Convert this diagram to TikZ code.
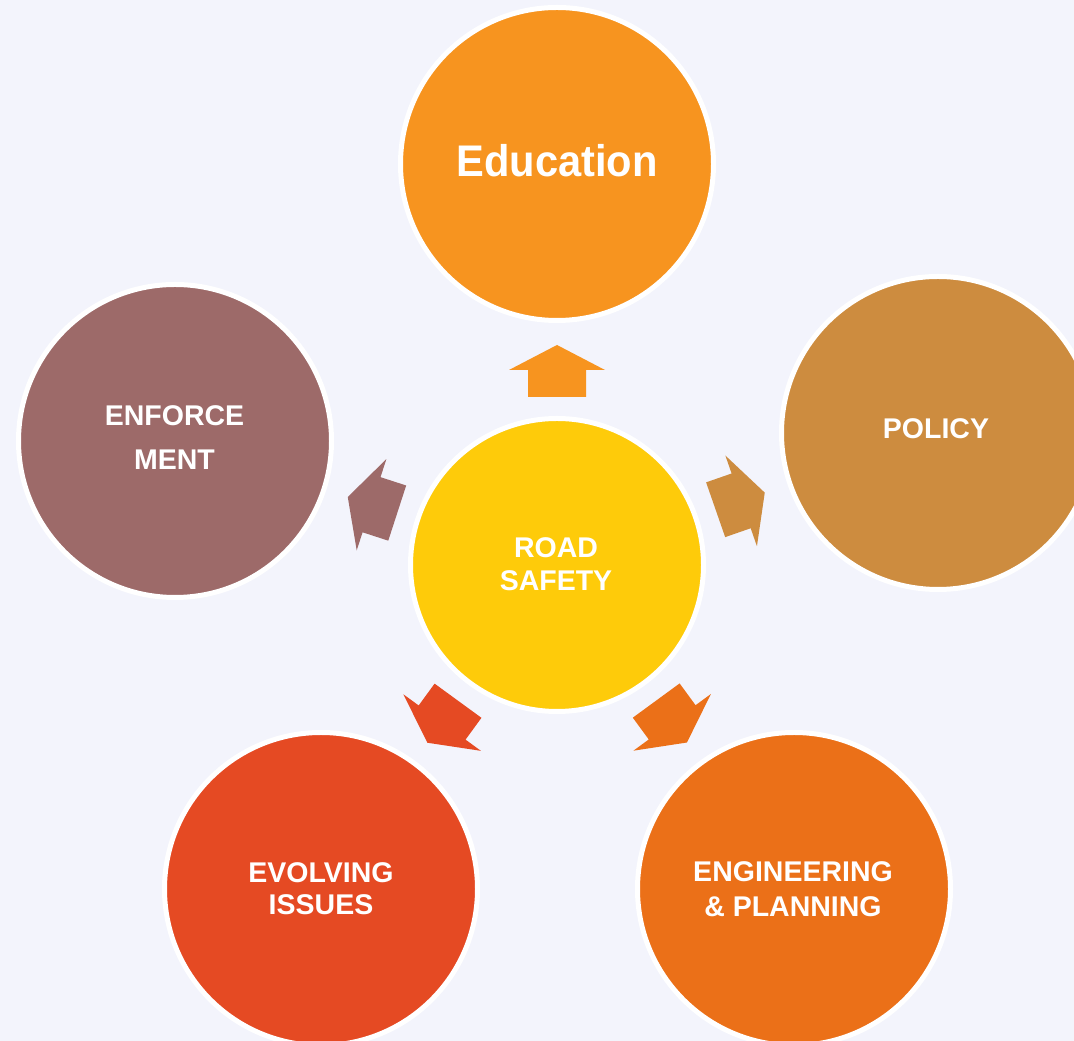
\documentclass[tikz,border=0pt]{standalone}
\usepackage{fontspec}
\setmainfont{Liberation Sans}
\newfontfamily\edufont{Liberation Sans}[FakeStretch=0.94]
\definecolor{bg}{HTML}{F3F4FC}
\definecolor{cHub}{HTML}{FECB0A}
\definecolor{cEdu}{HTML}{F7941F}
\definecolor{cPol}{HTML}{CD8C3F}
\definecolor{cEnf}{HTML}{9D6A69}
\definecolor{cEvo}{HTML}{E54A23}
\definecolor{cEng}{HTML}{EB7018}
\begin{document}
\begin{tikzpicture}[x=1pt,y=1pt,
  disc/.style={circle, draw=white, line width=5pt, minimum size=313pt, inner sep=0pt},
  hubdisc/.style={circle, draw=white, line width=5pt, minimum size=293pt, inner sep=0pt, fill=cHub},
  lbl/.style={text=white, font=\bfseries\fontsize{28.5}{#1}\selectfont, align=center, inner sep=0pt},
  lbl/.default=33,
  blockarrow/.pic={\fill[pic actions] (168,-29) -- (195,-29) -- (195,-48) -- (220,0) -- (195,48) -- (195,29) -- (168,29) -- cycle;}
]
\useasboundingbox (0,0) rectangle (1074,1041);
\clip (0,0) rectangle (1074,1041);
\fill[bg] (0,0) rectangle (1074,1041);

% circles
\node[hubdisc] (hub) at (557,476) {};
\node[disc, fill=cEdu] (edu) at (557,877) {};
\node[disc, fill=cPol] (pol) at (938,608) {};
\node[disc, fill=cEnf] (enf) at (175,600) {};
\node[disc, fill=cEvo] (evo) at (321,152) {};
\node[disc, fill=cEng] (eng) at (794,152) {};

% arrows from hub toward each circle
\pic[fill=cEdu, rotate=90] at (hub.center) {blockarrow};
\pic[fill=cPol, rotate=19.2] at (hub.center) {blockarrow};
\pic[fill=cEnf, rotate=162] at (hub.center) {blockarrow};
\pic[fill=cEvo, rotate=233.9] at (hub.center) {blockarrow};
\pic[fill=cEng, rotate=306.2] at (hub.center) {blockarrow};

% labels
\node[text=white, inner sep=0pt, font=\edufont\bfseries\fontsize{44.3}{50}\selectfont] (tedu) at (557,880.1) {Education};
\node[lbl] (tpol) at (936,612.3) {POLICY};
\node[lbl=44] (tenf) at (174.5,603) {ENFORCE\\MENT};
\node[lbl=32.3] (thub) at (556,476.8) {ROAD\\SAFETY};
\node[lbl=32.3] (tevo) at (321,152.2) {EVOLVING\\ISSUES};
\node[lbl=35] (teng) at (793,151.8) {ENGINEERING\\\& PLANNING};
\end{tikzpicture}
\end{document}
